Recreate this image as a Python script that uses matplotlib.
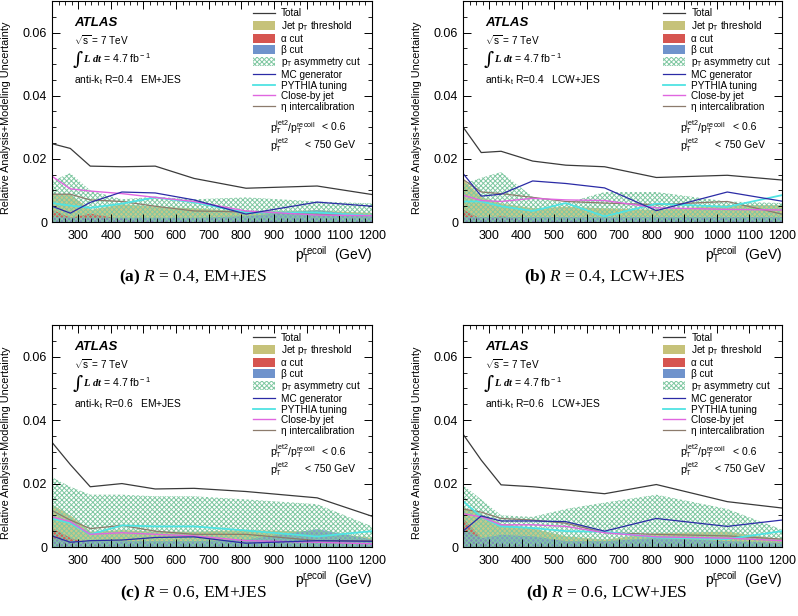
import matplotlib
matplotlib.use("Agg")
import matplotlib.pyplot as plt
from matplotlib.lines import Line2D
from matplotlib.patches import Patch
from matplotlib.ticker import MultipleLocator, FuncFormatter

plt.rcParams['font.family'] = ['Liberation Sans', 'DejaVu Sans']
plt.rcParams['mathtext.fontset'] = 'custom'
plt.rcParams['mathtext.rm'] = 'Liberation Sans'
plt.rcParams['mathtext.it'] = 'Liberation Serif:italic:bold'
plt.rcParams['mathtext.bf'] = 'Liberation Serif:bold'
plt.rcParams['mathtext.sf'] = 'Liberation Serif:italic'
plt.rcParams['hatch.linewidth'] = 0.7

# pT recoil bin positions (GeV)
pt = [220, 276, 337, 434, 536, 655, 814, 1032, 1200]

panels = ['a', 'b', 'c', 'd']
radius = {'a': '0.4', 'b': '0.4', 'c': '0.6', 'd': '0.6'}
scheme = {'a': 'EM+JES', 'b': 'LCW+JES', 'c': 'EM+JES', 'd': 'LCW+JES'}

total = {
    'a': [0.0248, 0.0233, 0.0177, 0.0175, 0.0177, 0.0138, 0.0107, 0.0114, 0.0087],
    'b': [0.0301, 0.0220, 0.0224, 0.0193, 0.0180, 0.0175, 0.0141, 0.0148, 0.0133],
    'c': [0.0330, 0.0260, 0.0190, 0.0200, 0.0183, 0.0185, 0.0175, 0.0155, 0.0097],
    'd': [0.0356, 0.0274, 0.0196, 0.0190, 0.0180, 0.0168, 0.0197, 0.0143, 0.0123],
}
jet_pt_threshold = {
    'a': [0.0088, 0.0088, 0.0040, 0.0058, 0.0050, 0.0045, 0.0035, 0.0038, 0.0030],
    'b': [0.0135, 0.0080, 0.0060, 0.0045, 0.0050, 0.0045, 0.0040, 0.0055, 0.0055],
    'c': [0.0135, 0.0100, 0.0050, 0.0055, 0.0050, 0.0050, 0.0055, 0.0050, 0.0030],
    'd': [0.0125, 0.0105, 0.0075, 0.0060, 0.0035, 0.0025, 0.0045, 0.0050, 0.0025],
}
alpha_cut = {
    'a': [0.0040, 0.0015, 0.0028, 0.0010, 0.0005, 0.0005, 0.0005, 0.0005, 0.0005],
    'b': [0.0040, 0.0010, 0.0020, 0.0005, 0.0005, 0.0005, 0.0005, 0.0005, 0.0005],
    'c': [0.0060, 0.0030, 0.0010, 0.0005, 0.0005, 0.0005, 0.0005, 0.0005, 0.0005],
    'd': [0.0090, 0.0030, 0.0010, 0.0005, 0.0005, 0.0005, 0.0005, 0.0005, 0.0005],
}
beta_cut = {
    'a': [0.0018, 0.0015, 0.0015, 0.0015, 0.0015, 0.0015, 0.0020, 0.0040, 0.0018],
    'b': [0.0015, 0.0015, 0.0015, 0.0015, 0.0015, 0.0015, 0.0015, 0.0015, 0.0015],
    'c': [0.0030, 0.0020, 0.0020, 0.0020, 0.0020, 0.0020, 0.0025, 0.0058, 0.0025],
    'd': [0.0055, 0.0030, 0.0040, 0.0035, 0.0020, 0.0020, 0.0030, 0.0020, 0.0015],
}
pt_asym_cut = {
    'a': [0.0130, 0.0155, 0.0100, 0.0072, 0.0080, 0.0072, 0.0078, 0.0065, 0.0059],
    'b': [0.0120, 0.0140, 0.0158, 0.0080, 0.0060, 0.0095, 0.0095, 0.0065, 0.0060],
    'c': [0.0220, 0.0190, 0.0165, 0.0165, 0.0160, 0.0160, 0.0150, 0.0135, 0.0065],
    'd': [0.0195, 0.0150, 0.0100, 0.0095, 0.0120, 0.0140, 0.0165, 0.0120, 0.0055],
}
mc_generator = {
    'a': [0.0050, 0.0028, 0.0062, 0.0095, 0.0092, 0.0070, 0.0025, 0.0063, 0.0050],
    'b': [0.0154, 0.0082, 0.0088, 0.0130, 0.0122, 0.0108, 0.0036, 0.0095, 0.0066],
    'c': [0.0035, 0.0015, 0.0020, 0.0022, 0.0030, 0.0032, 0.0012, 0.0020, 0.0018],
    'd': [0.0050, 0.0098, 0.0082, 0.0082, 0.0080, 0.0050, 0.0090, 0.0065, 0.0085],
}
pythia_tuning = {
    'a': [0.0060, 0.0052, 0.0045, 0.0058, 0.0078, 0.0062, 0.0030, 0.0030, 0.0020],
    'b': [0.0065, 0.0065, 0.0050, 0.0035, 0.0060, 0.0018, 0.0058, 0.0048, 0.0085],
    'c': [0.0090, 0.0075, 0.0040, 0.0068, 0.0065, 0.0065, 0.0052, 0.0033, 0.0050],
    'd': [0.0145, 0.0095, 0.0065, 0.0060, 0.0050, 0.0048, 0.0030, 0.0025, 0.0050],
}
close_by_jet = {
    'a': [0.0145, 0.0105, 0.0098, 0.0090, 0.0078, 0.0065, 0.0035, 0.0022, 0.0020],
    'b': [0.0085, 0.0068, 0.0065, 0.0075, 0.0070, 0.0068, 0.0045, 0.0040, 0.0038],
    'c': [0.0095, 0.0080, 0.0040, 0.0045, 0.0040, 0.0035, 0.0020, 0.0015, 0.0010],
    'd': [0.0105, 0.0095, 0.0070, 0.0070, 0.0065, 0.0045, 0.0032, 0.0028, 0.0020],
}
eta_intercalibration = {
    'a': [0.0088, 0.0088, 0.0070, 0.0065, 0.0050, 0.0035, 0.0032, 0.0025, 0.0020],
    'b': [0.0135, 0.0095, 0.0090, 0.0078, 0.0065, 0.0060, 0.0055, 0.0065, 0.0025],
    'c': [0.0115, 0.0085, 0.0058, 0.0068, 0.0050, 0.0040, 0.0040, 0.0020, 0.0020],
    'd': [0.0120, 0.0110, 0.0090, 0.0085, 0.0075, 0.0045, 0.0040, 0.0035, 0.0025],
}

c_khaki = '#c6c27a'
c_red = '#d65550'
c_blue = '#6f93cc'
c_hatch = '#80c8a2'
c_total = '#3a3a3a'
c_mc = '#2b2ba6'
c_py = '#4fe3e3'
c_cb = '#e066e0'
c_eta = '#8c7b6c'

fig = plt.figure(figsize=(7.98, 6.16), dpi=100)

# axes positions in figure fractions
pos = {
    'a': [0.0652, 0.6396, 0.401, 0.3588],
    'b': [0.5802, 0.6396, 0.3997, 0.3588],
    'c': [0.0652, 0.1120, 0.401, 0.3604],
    'd': [0.5802, 0.1120, 0.3997, 0.3604],
}
caption_xy = {'a': (0.242, 0.550), 'b': (0.758, 0.550),
              'c': (0.242, 0.037), 'd': (0.760, 0.037)}

for p in panels:
    ax = fig.add_axes(pos[p])

    ax.fill_between(pt, 0, jet_pt_threshold[p], color=c_khaki, alpha=0.9, lw=0)
    ax.fill_between(pt, 0, alpha_cut[p], color=c_red, alpha=0.9, lw=0)
    ax.fill_between(pt, 0, beta_cut[p], color=c_blue, alpha=0.85, lw=0)
    ax.fill_between(pt, 0, pt_asym_cut[p], facecolor='none', edgecolor=c_hatch,
                    hatch='xxxxxxx', lw=0)

    ax.plot(pt, total[p], color=c_total, lw=0.9)
    ax.plot(pt, eta_intercalibration[p], color=c_eta, lw=0.9)
    ax.plot(pt, pythia_tuning[p], color=c_py, lw=1.3)
    ax.plot(pt, close_by_jet[p], color=c_cb, lw=1.0)
    ax.plot(pt, mc_generator[p], color=c_mc, lw=0.9)

    ax.set_xlim(220, 1200)
    ax.set_ylim(0, 0.07)
    ax.xaxis.set_major_locator(MultipleLocator(100))
    ax.xaxis.set_minor_locator(MultipleLocator(20))
    ax.yaxis.set_major_locator(MultipleLocator(0.02))
    ax.yaxis.set_minor_locator(MultipleLocator(0.005))
    ax.yaxis.set_major_formatter(FuncFormatter(lambda v, _: '0' if abs(v) < 1e-9 else '%.2f' % v))
    ax.tick_params(which='both', direction='in', top=True, right=True, labelsize=9)
    ax.tick_params(which='major', length=6, width=0.7)
    ax.tick_params(which='minor', length=3, width=0.6)
    ax.tick_params(axis='x', pad=6)
    for s in ax.spines.values():
        s.set_linewidth(0.8)

    ax.set_ylabel('Relative Analysis+Modeling Uncertainty', fontsize=7.8)
    ax.yaxis.set_label_coords(-0.128, 0.47)
    ax.text(1.0, -0.172, r'p$_{\rm T}^{\rm recoil}$  (GeV)', transform=ax.transAxes,
            ha='right', va='baseline', fontsize=10)

    # annotations
    ax.text(0.069, 0.90, 'ATLAS', transform=ax.transAxes, fontsize=9.5,
            fontweight='bold', fontstyle='italic', va='center')
    ax.text(0.069, 0.823, r'$\sqrt{\rm s}$ = 7 TeV', transform=ax.transAxes,
            fontsize=7.2, va='center')
    ax.text(0.064, 0.735, '∫', transform=ax.transAxes, fontsize=14,
            family='DejaVu Serif', va='center')
    ax.text(0.098, 0.74, r'$\mathit{L\ dt}$ = 4.7 fb$^{\rm -1}$', transform=ax.transAxes,
            fontsize=7.6, va='center')
    ax.text(0.069, 0.643, r'anti-k$_{\rm t}$ R=%s   %s' % (radius[p], scheme[p]),
            transform=ax.transAxes, fontsize=7.4, va='center')
    ax.text(0.68, 0.43, r'p$_{\rm T}^{\rm jet2}$/p$_{\rm T}^{\rm recoil}$', transform=ax.transAxes,
            fontsize=7.5, va='center')
    ax.text(0.845, 0.43, '< 0.6', transform=ax.transAxes, fontsize=7.5, va='center')
    ax.text(0.68, 0.35, r'p$_{\rm T}^{\rm jet2}$', transform=ax.transAxes,
            fontsize=7.5, va='center')
    ax.text(0.79, 0.35, '< 750 GeV', transform=ax.transAxes, fontsize=7.5, va='center')

    handles = [
        Line2D([], [], color=c_total, lw=0.9),
        Patch(facecolor=c_khaki, lw=0),
        Patch(facecolor=c_red, lw=0),
        Patch(facecolor=c_blue, lw=0),
        Patch(facecolor='none', edgecolor=c_hatch, hatch='xxxxxxx', lw=0),
        Line2D([], [], color=c_mc, lw=0.9),
        Line2D([], [], color=c_py, lw=1.3),
        Line2D([], [], color=c_cb, lw=1.0),
        Line2D([], [], color=c_eta, lw=0.9),
    ]
    labels = ['Total', r'Jet p$_{\rm T}$ threshold', 'α cut', 'β cut',
              r'p$_{\rm T}$ asymmetry cut', 'MC generator', 'PYTHIA tuning',
              'Close-by jet', 'η intercalibration']
    ax.legend(handles, labels, loc='upper left', bbox_to_anchor=(0.605, 1.0),
              frameon=False, fontsize=7.2, handlelength=2.2, handleheight=1.0,
              labelspacing=0.07, handletextpad=0.6, borderpad=0.25)

    cx, cy = caption_xy[p]
    fig.text(cx, cy, r'$\mathbf{(%s)}$ $\mathsf{R}$ = %s, %s' % (p, radius[p], scheme[p]),
             ha='center', va='center', fontsize=12.5, family='Liberation Serif')

fig.savefig('out.png', dpi=100)
